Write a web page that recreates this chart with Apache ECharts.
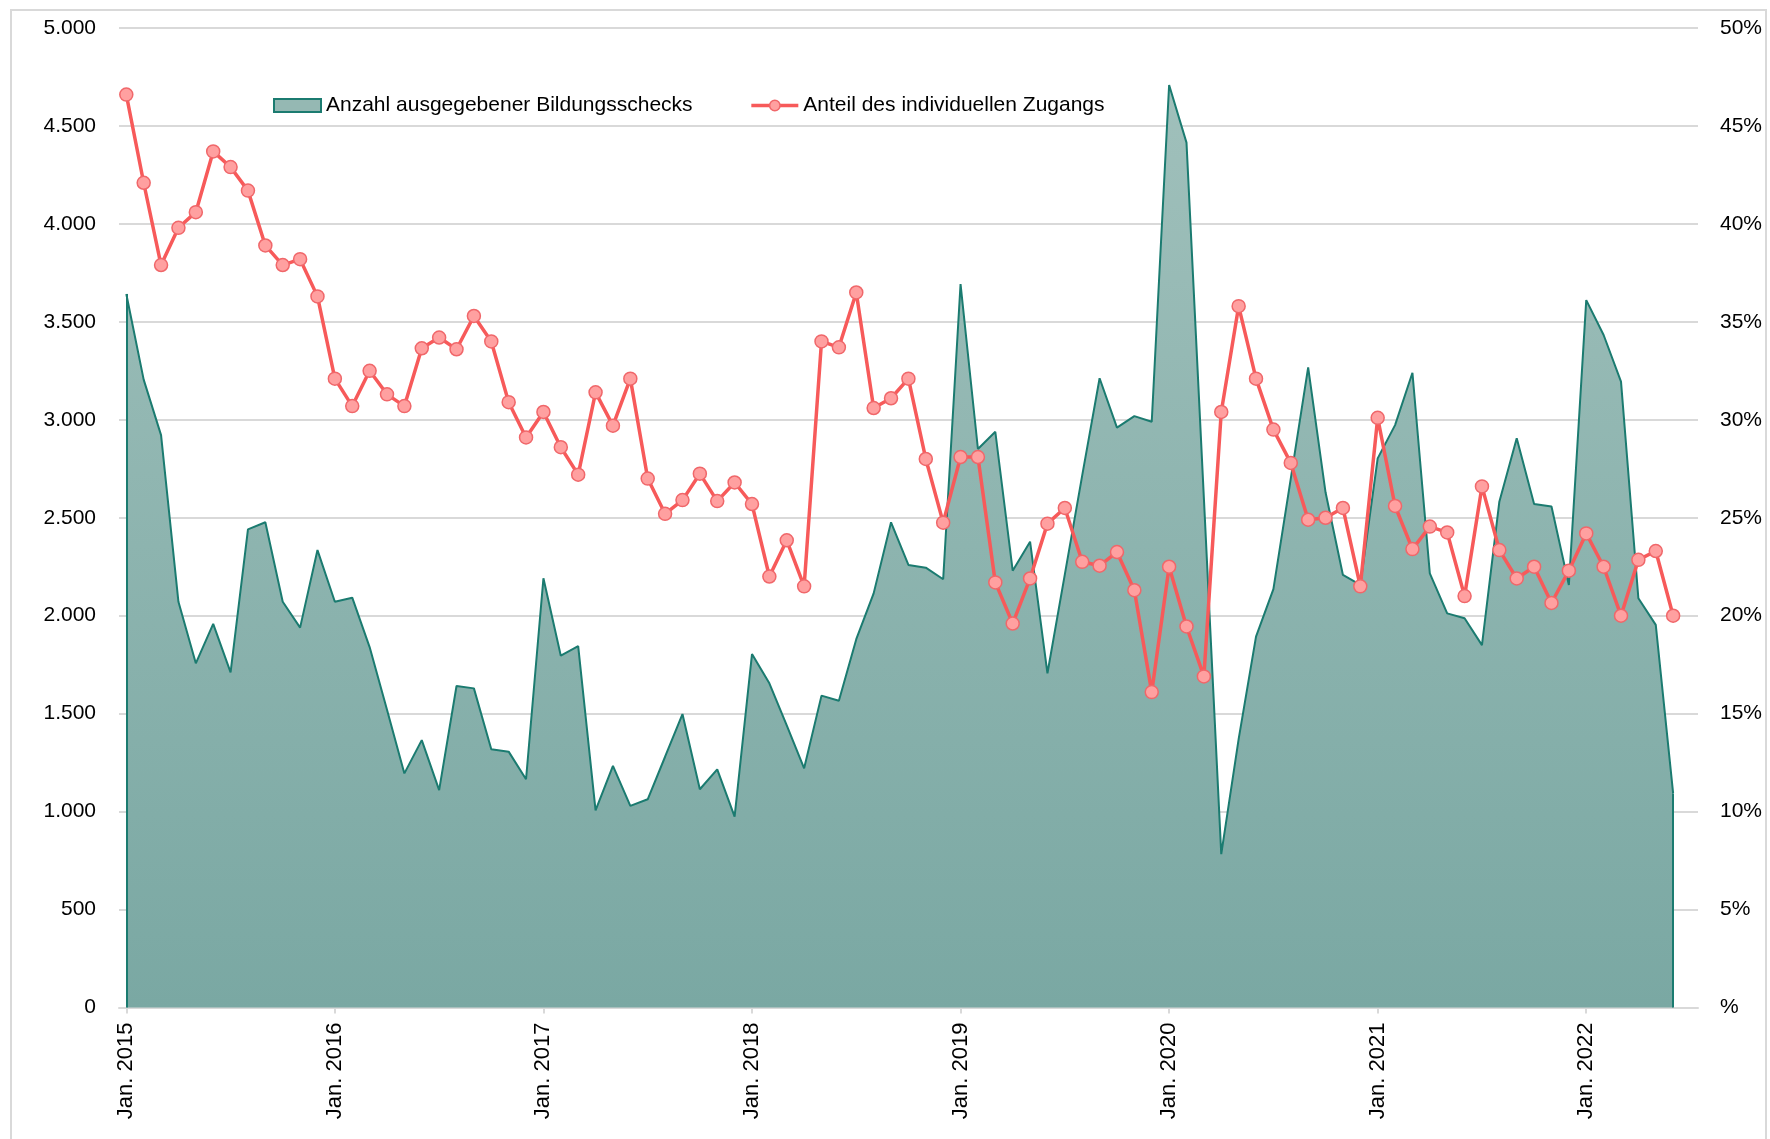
<!DOCTYPE html>
<html>
<head>
<meta charset="UTF-8">
<title>Bildungsschecks</title>
<script src="https://cdn.jsdelivr.net/npm/echarts@6/dist/echarts.min.js"></script>
<style>
  html, body { margin:0; padding:0; background:#fff; }
</style>
</head>
<body>

<div id="box" style="width:1770px;height:1139px;"></div>

<script type="text/javascript">

// Anzahl ausgegebener Bildungsschecks, monatlich Jan. 2015 - Jun. 2022
var anzahl = [
  3642, 3205, 2922, 2071, 1757, 1958, 1711, 2441, 2477, 2071, 1939, 2335, // 2015
  2071, 2092, 1840, 1520, 1195, 1365, 1110, 1641, 1629, 1318, 1306, 1165, // 2016
  2191, 1796, 1845, 1006, 1233, 1029, 1063, 1280, 1498, 1114, 1216, 974,  // 2017
  1804, 1655, 1440, 1221, 1592, 1566, 1880, 2114, 2477, 2259, 2245, 2186, // 2018
  3693, 2851, 2939, 2230, 2378, 1706, 2211, 2716, 3212, 2960, 3019, 2990, // 2019
  4709, 4415, 2600, 783, 1370, 1893, 2136, 2700, 3268, 2630, 2208, 2157,  // 2020
  2803, 2973, 3240, 2216, 2012, 1987, 1850, 2582, 2906, 2570, 2557, 2157, // 2021
  3611, 3433, 3195, 2089, 1953, 1093                                       // 2022
];

// Anteil des individuellen Zugangs in %
var anteil = [
  46.6, 42.1, 37.9, 39.8, 40.6, 43.7, 42.9, 41.7, 38.9, 37.9, 38.2, 36.3,
  32.1, 30.7, 32.5, 31.3, 30.7, 33.65, 34.2, 33.6, 35.3, 34.0, 30.9, 29.1,
  30.4, 28.6, 27.2, 31.4, 29.7, 32.1, 27.0, 25.2, 25.9, 27.25, 25.85, 26.8,
  25.7, 22.0, 23.85, 21.5, 34.0, 33.7, 36.5, 30.6, 31.1, 32.1, 28.0, 24.75,
  28.1, 28.1, 21.7, 19.6, 21.9, 24.7, 25.5, 22.75, 22.55, 23.25, 21.3, 16.1,
  22.5, 19.45, 16.9, 30.4, 35.8, 32.1, 29.5, 27.8, 24.9, 25.0, 25.5, 21.5,
  30.1, 25.6, 23.4, 24.55, 24.25, 21.0, 26.6, 23.35, 21.9, 22.5, 20.65, 22.3,
  24.2, 22.5, 20.0, 22.85, 23.3, 20.0
];

// x-Achse: Beschriftung jeweils im Januar
var yearLabels = ['Jan. 2015','Jan. 2016','Jan. 2017','Jan. 2018','Jan. 2019','Jan. 2020','Jan. 2021','Jan. 2022'];
var tickPos = yearLabels.map(function(_, k){ return k * 12; });

var seriesNames = ['Anzahl ausgegebener Bildungsschecks', 'Anteil des individuellen Zugangs'];

var font = 'Liberation Sans';
var teal = '#1b7b70';
var red = '#f75a5a';

function deNum(v){
  return String(v).replace(/\B(?=(\d{3})+(?!\d))/g, '.');
}

var last = anzahl.length - 1;

var mychart = echarts.init(document.getElementById('box'));

var option = {
  animation: false,
  backgroundColor: '#fff',
  graphic: [{
    type: 'rect',
    silent: true,
    shape: { x: 11, y: 10, width: 1755, height: 1145 },
    style: { fill: 'none', stroke: '#d9d9d9', lineWidth: 2 }
  }],
  legend: {
    left: 268,
    top: 90,
    itemWidth: 47,
    itemHeight: 13,
    itemGap: 57,
    textStyle: { fontFamily: font, fontSize: 21, color: '#000' },
    data: [
      { name: seriesNames[0], icon: 'rect',
        itemStyle: { color: '#95b8b3', borderColor: teal, borderWidth: 2 } },
      { name: seriesNames[1],
        lineStyle: { color: red, width: 3.5 },
        itemStyle: { color: '#ffa0a0', borderColor: '#f0676a', borderWidth: 1.5 } }
    ]
  },
  grid: { left: 119, right: 72, top: 28, bottom: 131.5 },
  xAxis: {
    type: 'value',
    min: -0.42,
    max: 90.43,
    splitLine: { show: false },
    axisLine: { show: true, lineStyle: { color: '#d9d9d9', width: 2 } },
    axisTick: { show: true, customValues: tickPos, length: 6, lineStyle: { color: '#d9d9d9', width: 2 } },
    axisLabel: {
      customValues: tickPos,
      rotate: 90,
      margin: 15,
      fontFamily: font, fontSize: 22, color: '#000',
      formatter: function(v){ return yearLabels[Math.round(v / 12)]; }
    }
  },
  yAxis: [{
    type: 'value',
    min: 0, max: 5000, interval: 500,
    axisLine: { show: false },
    axisTick: { show: false },
    splitLine: { lineStyle: { color: '#d9d9d9', width: 2 } },
    axisLabel: { margin: 23, fontFamily: font, fontSize: 21, color: '#000', formatter: deNum }
  }, {
    type: 'value',
    position: 'right',
    min: 0, max: 50, interval: 5,
    axisLine: { show: false },
    axisTick: { show: false },
    splitLine: { show: false },
    axisLabel: { margin: 22, fontFamily: font, fontSize: 21, color: '#000',
      formatter: function(v){ return v === 0 ? '%' : v + '%'; } }
  }],
  series: [{
    name: seriesNames[0],
    type: 'line',
    data: anzahl.map(function(v, i){ return [i, v]; }),
    symbol: 'none',
    z: 1,
    lineStyle: { color: teal, width: 2 },
    itemStyle: { color: '#95b8b3', borderColor: teal },
    areaStyle: {
      opacity: 1,
      color: new echarts.graphic.LinearGradient(0, 0, 0, 1, [
        { offset: 0, color: '#a0c0bb' },
        { offset: 1, color: '#7aa8a3' }
      ])
    },
    markLine: {
      silent: true,
      symbol: 'none',
      label: { show: false },
      lineStyle: { color: teal, width: 2, type: 'solid' },
      data: [
        [{ coord: [0, 0] }, { coord: [0, anzahl[0]] }],
        [{ coord: [last, 0] }, { coord: [last, anzahl[last]] }]
      ]
    }
  }, {
    name: seriesNames[1],
    type: 'line',
    yAxisIndex: 1,
    data: anteil.map(function(v, i){ return [i, v]; }),
    symbol: 'circle',
    symbolSize: 13,
    z: 3,
    lineStyle: { color: red, width: 3.5 },
    itemStyle: { color: '#ffa0a0', borderColor: '#f0676a', borderWidth: 1.5 }
  }]
};

mychart.setOption(option);
</script>
</body>
</html>
